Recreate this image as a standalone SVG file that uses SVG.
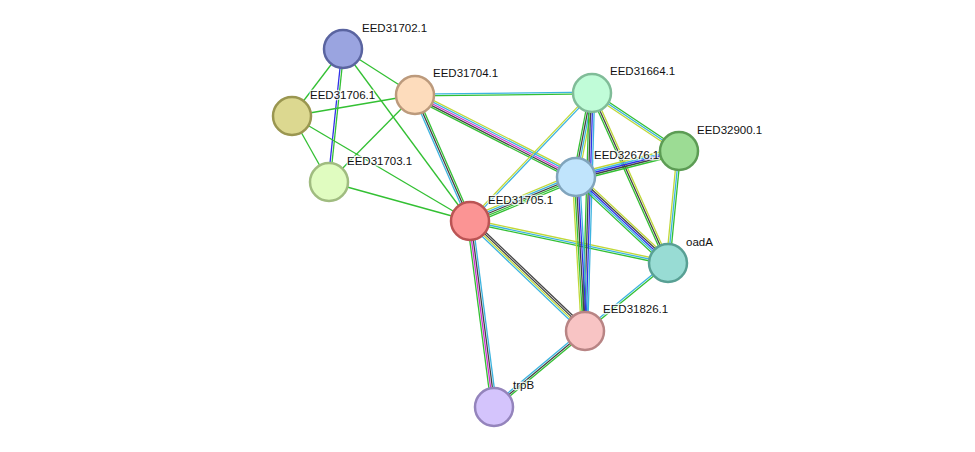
<svg xmlns="http://www.w3.org/2000/svg" width="975" height="452" viewBox="0 0 975 452">
<style>
line{stroke-width:1.3}
.g{stroke:#33c033}.c{stroke:#3cb4e0}.d{stroke:#444}.m{stroke:#d030d0}.y{stroke:#c0d838}.b{stroke:#3030e8}
circle{stroke-width:2.5}
text{font-family:"Liberation Sans",Arial,sans-serif;font-size:11.5px;fill:#111;paint-order:stroke;stroke:#fff;stroke-width:2.5px;stroke-opacity:0.8}
</style>
<rect width="975" height="452" fill="#fff"/>
<g id="connectors">
<line class="g" x1="343" y1="49" x2="292" y2="116"/>
<line class="g" x1="343" y1="49" x2="415" y2="95"/>
<line class="b" x1="342" y1="49" x2="328" y2="182"/>
<line class="g" x1="344" y1="49" x2="330" y2="182"/>
<line class="g" x1="343" y1="49" x2="470" y2="221"/>
<line class="g" x1="292" y1="116" x2="415" y2="95"/>
<line class="g" x1="292" y1="116" x2="329" y2="182"/>
<line class="g" x1="292" y1="116" x2="470" y2="221"/>
<line class="g" x1="415" y1="95" x2="329" y2="182"/>
<line class="g" x1="329" y1="182" x2="470" y2="221"/>
<g transform="translate(0,-0.9)"><line class="c" x1="415" y1="95" x2="592" y2="93"/></g>
<g transform="translate(0,0.9)"><line class="g" x1="415" y1="95" x2="592" y2="93"/></g>
<g transform="translate(1.66,-0.72)"><line class="g" x1="415" y1="95" x2="470" y2="221"/></g>
<line class="d" x1="415" y1="95" x2="470" y2="221"/>
<g transform="translate(-1.66,0.72)"><line class="c" x1="415" y1="95" x2="470" y2="221"/></g>
<g transform="translate(1.62,-3.2)"><line class="y" x1="415" y1="95" x2="576" y2="177"/></g>
<g transform="translate(0.81,-1.6)"><line class="c" x1="415" y1="95" x2="576" y2="177"/></g>
<line class="m" x1="415" y1="95" x2="576" y2="177"/>
<g transform="translate(-0.81,1.6)"><line class="d" x1="415" y1="95" x2="576" y2="177"/></g>
<g transform="translate(-1.62,3.2)"><line class="g" x1="415" y1="95" x2="576" y2="177"/></g>
<g transform="translate(-0.65,-0.62)"><line class="y" x1="470" y1="221" x2="592" y2="93"/></g>
<g transform="translate(0.65,0.62)"><line class="c" x1="470" y1="221" x2="592" y2="93"/></g>
<g transform="translate(-1.37,-3.31)"><line class="y" x1="470" y1="221" x2="576" y2="177"/></g>
<g transform="translate(-0.68,-1.66)"><line class="c" x1="470" y1="221" x2="576" y2="177"/></g>
<line class="d" x1="470" y1="221" x2="576" y2="177"/>
<g transform="translate(0.68,1.66)"><line class="g" x1="470" y1="221" x2="576" y2="177"/></g>
<g transform="translate(1.37,3.31)"><line class="g" x1="470" y1="221" x2="576" y2="177"/></g>
<g transform="translate(0.38,-1.76)"><line class="y" x1="470" y1="221" x2="668" y2="263"/></g>
<line class="c" x1="470" y1="221" x2="668" y2="263"/>
<g transform="translate(-0.38,1.76)"><line class="g" x1="470" y1="221" x2="668" y2="263"/></g>
<g transform="translate(1.86,-1.94)"><line class="d" x1="470" y1="221" x2="585" y2="331"/></g>
<g transform="translate(0.62,-0.65)"><line class="d" x1="470" y1="221" x2="585" y2="331"/></g>
<g transform="translate(-0.62,0.65)"><line class="y" x1="470" y1="221" x2="585" y2="331"/></g>
<g transform="translate(-1.86,1.94)"><line class="c" x1="470" y1="221" x2="585" y2="331"/></g>
<g transform="translate(-2.67,0.35)"><line class="g" x1="470" y1="221" x2="494" y2="407"/></g>
<g transform="translate(-0.89,0.12)"><line class="m" x1="470" y1="221" x2="494" y2="407"/></g>
<g transform="translate(0.89,-0.12)"><line class="d" x1="470" y1="221" x2="494" y2="407"/></g>
<g transform="translate(2.67,-0.35)"><line class="c" x1="470" y1="221" x2="494" y2="407"/></g>
<g transform="translate(-2.65,-0.5)"><line class="g" x1="592" y1="93" x2="576" y2="177"/></g>
<g transform="translate(-0.88,-0.17)"><line class="d" x1="592" y1="93" x2="576" y2="177"/></g>
<g transform="translate(0.88,0.17)"><line class="c" x1="592" y1="93" x2="576" y2="177"/></g>
<g transform="translate(2.65,0.5)"><line class="y" x1="592" y1="93" x2="576" y2="177"/></g>
<g transform="translate(1,-1.5)"><line class="g" x1="592" y1="93" x2="679" y2="151"/></g>
<line class="c" x1="592" y1="93" x2="679" y2="151"/>
<g transform="translate(-1,1.5)"><line class="y" x1="592" y1="93" x2="679" y2="151"/></g>
<g transform="translate(-1.64,0.74)"><line class="g" x1="592" y1="93" x2="668" y2="263"/></g>
<line class="d" x1="592" y1="93" x2="668" y2="263"/>
<g transform="translate(1.64,-0.74)"><line class="y" x1="592" y1="93" x2="668" y2="263"/></g>
<g transform="translate(-2.7,0)"><line class="g" x1="592" y1="93" x2="585" y2="331"/></g>
<g transform="translate(-0.9,0)"><line class="d" x1="592" y1="93" x2="585" y2="331"/></g>
<g transform="translate(0.9,0)"><line class="b" x1="592" y1="93" x2="585" y2="331"/></g>
<g transform="translate(2.7,0)"><line class="c" x1="592" y1="93" x2="585" y2="331"/></g>
<g transform="translate(-0.86,-3.5)"><line class="y" x1="576" y1="177" x2="679" y2="151"/></g>
<g transform="translate(-0.43,-1.75)"><line class="c" x1="576" y1="177" x2="679" y2="151"/></g>
<line class="b" x1="576" y1="177" x2="679" y2="151"/>
<g transform="translate(0.43,1.75)"><line class="d" x1="576" y1="177" x2="679" y2="151"/></g>
<g transform="translate(0.86,3.5)"><line class="g" x1="576" y1="177" x2="679" y2="151"/></g>
<g transform="translate(-2.45,2.63)"><line class="g" x1="576" y1="177" x2="668" y2="263"/></g>
<g transform="translate(-1.22,1.31)"><line class="c" x1="576" y1="177" x2="668" y2="263"/></g>
<line class="b" x1="576" y1="177" x2="668" y2="263"/>
<g transform="translate(1.22,-1.31)"><line class="d" x1="576" y1="177" x2="668" y2="263"/></g>
<g transform="translate(2.45,-2.63)"><line class="y" x1="576" y1="177" x2="668" y2="263"/></g>
<g transform="translate(-3.6,0)"><line class="y" x1="576" y1="177" x2="585" y2="331"/></g>
<g transform="translate(-1.8,0)"><line class="g" x1="576" y1="177" x2="585" y2="331"/></g>
<line class="d" x1="576" y1="177" x2="585" y2="331"/>
<g transform="translate(1.8,0)"><line class="b" x1="576" y1="177" x2="585" y2="331"/></g>
<g transform="translate(3.6,0)"><line class="c" x1="576" y1="177" x2="585" y2="331"/></g>
<g transform="translate(-1.8,0)"><line class="y" x1="679" y1="151" x2="668" y2="263"/></g>
<line class="c" x1="679" y1="151" x2="668" y2="263"/>
<g transform="translate(1.8,0)"><line class="g" x1="679" y1="151" x2="668" y2="263"/></g>
<g transform="translate(-0.57,-0.69)"><line class="c" x1="668" y1="263" x2="585" y2="331"/></g>
<g transform="translate(0.57,0.69)"><line class="g" x1="668" y1="263" x2="585" y2="331"/></g>
<g transform="translate(1.15,1.39)"><line class="g" x1="585" y1="331" x2="494" y2="407"/></g>
<line class="d" x1="585" y1="331" x2="494" y2="407"/>
<g transform="translate(-1.15,-1.39)"><line class="c" x1="585" y1="331" x2="494" y2="407"/></g>
</g>
<g id="EED31702.1"><circle cx="343" cy="49" r="19" fill="#9aa4e0" stroke="#5a64a0"/><text x="362" y="32">EED31702.1</text></g>
<g id="EED31706.1"><circle cx="292" cy="116" r="19" fill="#dcd890" stroke="#9a9650"/><text x="310" y="99">EED31706.1</text></g>
<g id="EED31704.1"><circle cx="415" cy="95" r="19" fill="#fddcbc" stroke="#bc9a7c"/><text x="433" y="77">EED31704.1</text></g>
<g id="EED31703.1"><circle cx="329" cy="182" r="19" fill="#e0fcc0" stroke="#a0bc80"/><text x="347" y="165">EED31703.1</text></g>
<g id="EED31705.1"><circle cx="470" cy="221" r="19" fill="#fb9494" stroke="#bb5454"/><text x="488" y="204">EED31705.1</text></g>
<g id="EED31664.1"><circle cx="592" cy="93" r="19" fill="#c0fcd8" stroke="#80bc98"/><text x="610" y="75">EED31664.1</text></g>
<g id="EED32676.1"><circle cx="576" cy="177" r="19" fill="#c0e4fc" stroke="#80a4bc"/><text x="594" y="159">EED32676.1</text></g>
<g id="EED32900.1"><circle cx="679" cy="151" r="19" fill="#9cdc94" stroke="#5c9c54"/><text x="697" y="134">EED32900.1</text></g>
<g id="oadA"><circle cx="668" cy="263" r="19" fill="#98dcd4" stroke="#58a094"/><text x="686" y="246">oadA</text></g>
<g id="EED31826.1"><circle cx="585" cy="331" r="19" fill="#f8c4c4" stroke="#b88484"/><text x="603" y="313">EED31826.1</text></g>
<g id="trpB"><circle cx="494" cy="407" r="19" fill="#d4c4fc" stroke="#9484bc"/><text x="513" y="389">trpB</text></g>
</svg>
